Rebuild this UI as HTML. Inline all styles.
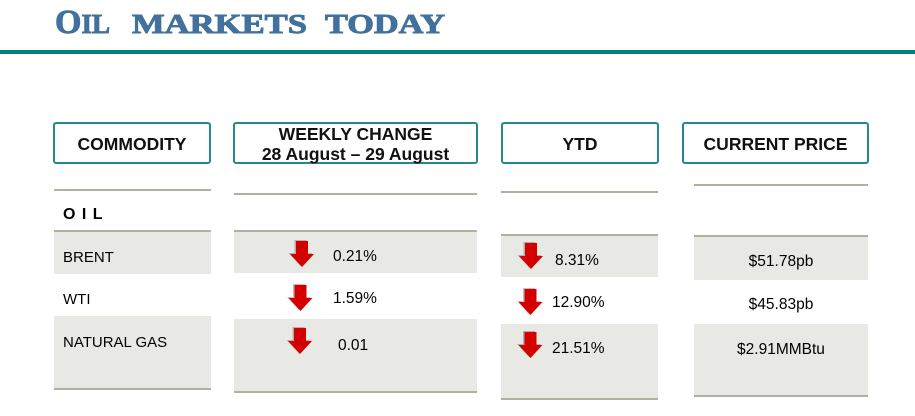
<!DOCTYPE html>
<html>
<head>
<meta charset="utf-8">
<style>
  html, body { margin:0; padding:0; background:#fff; }
  body { width:915px; height:416px; position:relative; overflow:hidden; font-family:"Liberation Sans", Arial, sans-serif; }
  .abs { position:absolute; }
  .hdr { position:absolute; box-sizing:border-box; border:2px solid #23898b; border-radius:3px; background:#fff;
         font-weight:bold; font-size:17.5px; color:#111; text-align:center; }
  .ln { position:absolute; height:2px; background:#aeb2a0; }
  .g { position:absolute; background:#e8e9e5; }
  .t { position:absolute; font-size:15.5px; color:#000; line-height:1; white-space:nowrap; }
</style>
</head>
<body>

<!-- Title -->
<svg class="abs" style="left:0;top:0" width="915" height="56">
  <g fill="#41719c" stroke="#41719c" stroke-width="0.9" font-family="'Liberation Serif', serif" font-weight="bold">
    <text x="55" y="33" textLength="55" lengthAdjust="spacingAndGlyphs"><tspan font-size="34">O</tspan><tspan font-size="27">IL</tspan></text>
    <text x="132" y="33" font-size="27" textLength="175" lengthAdjust="spacingAndGlyphs">MARKETS</text>
    <text x="325" y="33" font-size="27" textLength="120" lengthAdjust="spacingAndGlyphs">TODAY</text>
  </g>
  <rect x="0" y="50" width="915" height="4" fill="#00807f"/>
</svg>

<!-- Header boxes -->
<div class="hdr" style="left:53px;top:122px;width:158px;height:42px;line-height:40px;">COMMODITY</div>
<div class="hdr" style="left:233px;top:122px;width:245px;height:42px;line-height:20px;padding-top:0px;">WEEKLY CHANGE<br>28 August – 29 August</div>
<div class="hdr" style="left:501px;top:122px;width:158px;height:42px;line-height:40px;">YTD</div>
<div class="hdr" style="left:682px;top:122px;width:187px;height:42px;line-height:40px;">CURRENT PRICE</div>

<!-- Commodity column -->
<div class="ln" style="left:54px;top:189px;width:157px;height:1.5px;"></div>
<div class="t" style="left:63px;top:207px;font-weight:bold;font-size:16px;letter-spacing:1px;">O I L</div>
<div class="ln" style="left:54px;top:230px;width:157px;"></div>
<div class="g" style="left:54px;top:232px;width:157px;height:42px;"></div>
<div class="g" style="left:54px;top:316px;width:157px;height:72px;"></div>
<div class="ln" style="left:54px;top:388px;width:157px;"></div>
<div class="t" style="left:63px;top:250px;font-size:15px;">BRENT</div>
<div class="t" style="left:63px;top:292px;font-size:15px;">WTI</div>
<div class="t" style="left:63px;top:335px;font-size:15px;">NATURAL GAS</div>

<!-- Weekly column -->
<div class="ln" style="left:234px;top:193px;width:243px;"></div>
<div class="ln" style="left:234px;top:230px;width:243px;"></div>
<div class="g" style="left:234px;top:232px;width:243px;height:41px;"></div>
<div class="g" style="left:234px;top:319px;width:243px;height:72px;"></div>
<div class="ln" style="left:234px;top:391px;width:243px;"></div>
<div class="t" style="left:333px;top:249px;">0.21%</div>
<div class="t" style="left:333px;top:291px;">1.59%</div>
<div class="t" style="left:338px;top:338px;">0.01</div>

<!-- YTD column -->
<div class="ln" style="left:501px;top:191px;width:157px;height:1.5px;"></div>
<div class="ln" style="left:501px;top:234px;width:157px;"></div>
<div class="g" style="left:501px;top:236px;width:157px;height:41px;"></div>
<div class="g" style="left:501px;top:324px;width:157px;height:74px;"></div>
<div class="ln" style="left:501px;top:398px;width:157px;"></div>
<div class="t" style="left:555px;top:253px;">8.31%</div>
<div class="t" style="left:552px;top:295px;">12.90%</div>
<div class="t" style="left:552px;top:341px;">21.51%</div>

<!-- Current price column -->
<div class="ln" style="left:694px;top:184px;width:174px;"></div>
<div class="ln" style="left:694px;top:235px;width:174px;"></div>
<div class="g" style="left:694px;top:237px;width:174px;height:43px;"></div>
<div class="g" style="left:694px;top:324px;width:174px;height:71px;"></div>
<div class="ln" style="left:694px;top:395px;width:174px;"></div>
<div class="t" style="left:694px;width:174px;text-align:center;top:254px;">$51.78pb</div>
<div class="t" style="left:694px;width:174px;text-align:center;top:297px;">$45.83pb</div>
<div class="t" style="left:694px;width:174px;text-align:center;top:342px;">$2.91MMBtu</div>

<!-- Arrows -->
<svg class="abs" style="left:0;top:0" width="915" height="416">
  <defs>
    <g id="ar">
      <polygon points="-6,0 6,0 6,13 12,13 0,26 -12,13 -6,13" fill="#444" opacity="0.35" transform="translate(-1.5,-1)"/>
      <polygon points="-6,0 6,0 6,13 12,13 0,26 -12,13 -6,13" fill="#d40000"/>
    </g>
  </defs>
  <use href="#ar" x="302" y="241"/>
  <use href="#ar" x="300.5" y="285"/>
  <use href="#ar" x="300" y="328"/>
  <use href="#ar" x="531" y="243"/>
  <use href="#ar" x="530.5" y="289"/>
  <use href="#ar" x="530.5" y="332"/>
</svg>

</body>
</html>
